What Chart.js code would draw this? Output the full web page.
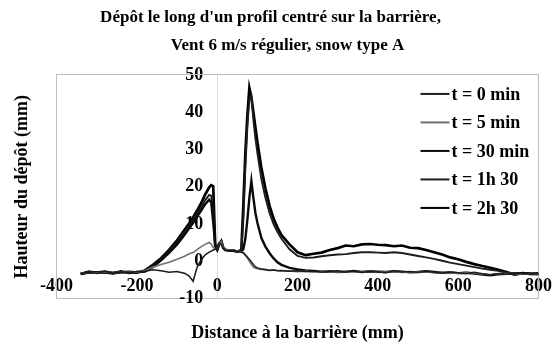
<!DOCTYPE html>
<html>
<head>
<meta charset="utf-8">
<script src="https://cdn.jsdelivr.net/npm/chart.js@4"></script>
<style>
  html, body { margin: 0; padding: 0; background: #fff; }
  #wrap { width: 553px; height: 345px; position: relative; }
</style>
</head>
<body>
<div id="wrap"><canvas id="c"></canvas></div>
<script>
// ---- data ----
const titleLines = ["Dépôt le long d'un profil centré sur la barrière,", "        Vent 6 m/s régulier, snow type A"];
const xAxisTitle = "Distance à la barrière (mm)";
const yAxisTitle = "Hauteur du dépôt (mm)";
const seriesNames = ["t = 0 min", "t = 5 min", "t = 30 min", "t = 1h 30", "t = 2h 30"];
const xTicks = [-400, -200, 0, 200, 400, 600, 800];
const yTicks = [-10, 0, 10, 20, 30, 40, 50];

const distance = [-340,-320,-300,-280,-260,-240,-220,-200,-180,
  -160,-140,-120,-100,-80,
  -70,-60,-50,-40,-30,-20,-15,-10,-5,0,
  5,10,15,20,30,40,50,60,
  65,70,75,80,85,90,95,100,
  110,120,130,140,150,160,
  180,200,220,240,260,280,300,320,340,360,380,400,420,440,460,480,500,520,540,560,580,600,620,640,660,680,700,720,740,760,780,800];

const t0 = [-3.4,-2.9,-3.3,-2.8,-3.2,-2.9,-3.1,-2.8,-2.7,
  -2.3,-2.6,-3.0,-2.8,-3.3,
  -4.0,-5.4,-1.6,0.4,1.7,2.4,2.7,3.0,3.2,3.4,
  4.8,4.6,3.5,3.0,2.8,2.9,2.6,2.4,
  2.2,1.7,1.1,0.5,-0.2,-0.9,-1.5,-1.8,
  -2.1,-2.3,-2.5,-2.4,-2.6,-2.5,
  -2.7,-2.6,-2.8,-2.7,-2.9,-2.8,-2.6,-2.9,-2.7,-3.0,-2.8,-2.9,-3.1,-2.6,-2.9,-2.8,-3.0,-2.7,-3.0,-3.2,-2.9,-3.1,-3.3,-3.0,-3.4,-3.7,-3.3,-3.5,-3.2,-3.4,-3.3,-3.5];

const t5 = [-3.3,-3.0,-3.2,-2.9,-3.1,-3.0,-3.0,-2.9,-2.6,
  -1.6,-0.9,-0.3,0.5,1.4,
  2.0,2.3,3.1,3.9,4.5,5.0,4.6,3.7,3.3,3.4,
  4.9,5.3,3.8,3.2,2.9,3.0,2.7,2.5,
  2.4,1.6,0.8,0.0,-0.9,-1.6,-1.9,-2.0,
  -2.2,-2.2,-2.4,-2.3,-2.5,-2.6,
  -2.6,-2.8,-2.7,-2.9,-2.7,-2.8,-2.9,-2.7,-2.8,-2.9,-2.7,-3.0,-2.9,-2.8,-3.0,-2.9,-2.8,-2.9,-3.1,-3.0,-3.1,-3.2,-3.0,-3.2,-3.5,-3.6,-3.4,-3.3,-3.3,-3.5,-3.4,-3.4];

const t30 = [-3.5,-2.8,-3.1,-3.0,-3.3,-2.7,-3.2,-2.9,-2.8,
  -1.6,0.2,2.2,4.5,7.3,
  8.8,10.3,12.0,13.6,15.3,16.5,15.8,10.5,4.3,3.3,
  4.7,5.3,3.6,3.1,2.9,2.8,2.6,2.7,
  3.2,6.0,11.0,17.0,21.6,17.0,13.0,10.3,
  6.2,3.9,2.2,0.8,-0.3,-1.0,
  -1.8,-2.2,-2.5,-2.6,-2.8,-2.7,-2.9,-2.8,-2.6,-2.9,-2.7,-2.8,-2.9,-2.7,-2.8,-3.0,-2.9,-2.7,-2.9,-3.1,-3.0,-3.2,-3.1,-3.3,-3.6,-3.8,-3.5,-3.4,-3.3,-3.3,-3.4,-3.5];

const t1h30 = [-3.3,-2.9,-3.2,-2.9,-3.1,-2.8,-3.0,-3.0,-2.7,
  -1.3,0.5,2.6,5.0,8.0,
  9.5,11.0,12.8,14.5,16.4,17.8,17.6,13.5,4.6,3.2,
  4.8,5.2,3.5,3.0,2.8,2.9,2.7,2.8,
  11.0,25.0,36.0,43.5,44.5,38.0,33.0,29.0,
  22.0,17.0,13.0,10.0,7.8,6.0,
  3.2,1.4,0.9,1.0,1.3,1.6,1.8,1.9,2.2,2.4,2.4,2.3,2.2,2.4,2.2,1.8,1.4,1.0,0.6,0.1,-0.4,-0.8,-1.2,-1.6,-2.0,-2.3,-2.6,-3.1,-3.4,-3.3,-3.5,-3.4];

const t2h30 = [-3.4,-3.0,-3.1,-2.8,-3.2,-3.0,-2.9,-3.1,-2.5,
  -1.0,0.8,3.0,5.6,8.6,
  10.1,11.8,13.6,15.6,17.9,19.8,20.4,20.1,4.0,3.0,
  4.6,5.4,3.6,3.0,2.9,2.8,2.6,3.0,
  15.0,29.0,39.0,46.5,44.0,40.0,36.0,32.0,
  25.0,19.5,15.0,11.5,9.0,7.0,
  4.5,2.4,1.6,2.0,2.3,3.0,3.5,4.2,4.0,4.5,4.6,4.4,4.3,4.0,4.2,3.6,3.5,3.0,2.4,1.8,1.0,0.5,-0.2,-0.8,-1.3,-1.8,-2.3,-2.9,-3.6,-3.2,-3.4,-3.3];

const seriesValues = [t0, t5, t30, t1h30, t2h30];

// ---- styles ----
const FONT = "'Liberation Serif', 'Times New Roman', serif";
const lineColors = ['#1c1c1c', '#707070', '#0a0a0a', '#1c1c1c', '#000000'];
const lineWidths = [1.5, 1.6, 2.4, 1.9, 2.7];
const frameColor = '#bdbdbd';

const datasets = seriesNames.map((name, k) => ({
  label: name,
  data: distance.map((d, i) => ({ x: d, y: seriesValues[k][i] })),
  borderColor: lineColors[k],
  backgroundColor: lineColors[k],
  borderWidth: lineWidths[k],
  pointRadius: 0,
  tension: 0,
  fill: false
}));

const insideLegend = {
  id: 'insideLegend',
  afterDatasetsDraw(chart) {
    const { ctx, chartArea } = chart;
    ctx.save();
    ctx.font = 'bold 18px ' + FONT;
    ctx.textBaseline = 'middle';
    ctx.textAlign = 'left';
    chart.data.datasets.forEach((ds, i) => {
      const y = chartArea.top + 19 + i * 28.5;
      ctx.strokeStyle = ds.borderColor;
      ctx.lineWidth = 2;
      ctx.beginPath();
      ctx.moveTo(chartArea.right - 118, y);
      ctx.lineTo(chartArea.right - 89, y);
      ctx.stroke();
      ctx.fillStyle = '#000';
      ctx.fillText(ds.label, chartArea.right - 87, y + 1);
    });
    ctx.restore();
  }
};

new Chart(document.getElementById('c'), {
  type: 'line',
  data: { datasets },
  plugins: [insideLegend],
  options: {
    responsive: true,
    maintainAspectRatio: false,
    animation: false,
    devicePixelRatio: 1,
    layout: { padding: { left: 0, right: 12, top: 0, bottom: 0 } },
    plugins: {
      legend: { display: false },
      tooltip: { enabled: false },
      title: {
        display: true,
        text: titleLines,
        color: '#000',
        font: { family: FONT, size: 17, weight: 'bold', lineHeight: 1.66 },
        padding: { top: 3.5, bottom: 15 }
      }
    },
    scales: {
      x: {
        type: 'linear',
        position: 'bottom',
        min: xTicks[0],
        max: xTicks[xTicks.length - 1],
        afterBuildTicks: (s) => { s.ticks = xTicks.map(v => ({ value: v })); },
        grid: {
          display: true, drawTicks: false, drawOnChartArea: true, lineWidth: 1,
          color: (c) => (c.tick && c.tick.value === 0 ? '#dadada' : 'rgba(0,0,0,0)')
        },
        border: { display: true, color: frameColor, width: 1 },
        ticks: { color: '#000', mirror: true, padding: 1, maxRotation: 0, autoSkip: false,
                 font: { family: FONT, size: 18, weight: 'bold' } },
        title: { display: true, text: xAxisTitle, color: '#000',
                 font: { family: FONT, size: 18, weight: 'bold' },
                 padding: { top: 22, bottom: 1 } }
      },
      y: {
        type: 'linear',
        position: { x: -35 },
        min: yTicks[0],
        max: yTicks[yTicks.length - 1],
        afterBuildTicks: (s) => { s.ticks = yTicks.map(v => ({ value: v })); },
        grid: { display: false, drawTicks: false },
        border: { display: false },
        ticks: { color: '#000', padding: 0, autoSkip: false,
                 font: { family: FONT, size: 18, weight: 'bold' } }
      },
      yFrame: {
        type: 'linear',
        position: 'left',
        min: yTicks[0],
        max: yTicks[yTicks.length - 1],
        grid: { display: false, drawTicks: false },
        border: { display: true, color: frameColor, width: 1 },
        ticks: { display: false },
        title: { display: true, text: yAxisTitle, color: '#000',
                 font: { family: FONT, size: 18, weight: 'bold' },
                 padding: { top: 12, bottom: 23 } }
      },
      yRight: {
        type: 'linear',
        position: 'right',
        min: yTicks[0],
        max: yTicks[yTicks.length - 1],
        grid: { display: false, drawTicks: false },
        border: { display: true, color: frameColor, width: 1 },
        ticks: { display: false }
      },
      xTop: {
        type: 'linear',
        position: 'top',
        min: xTicks[0],
        max: xTicks[xTicks.length - 1],
        grid: { display: false, drawTicks: false },
        border: { display: true, color: frameColor, width: 1 },
        ticks: { display: false }
      }
    }
  }
});
</script>
</body>
</html>
